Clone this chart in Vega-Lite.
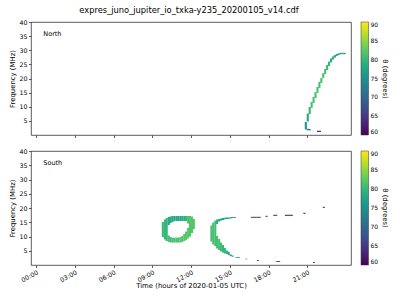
{
  "$schema": "https://vega.github.io/schema/vega-lite/v6.json",
  "padding": {"left": 8, "top": 6, "right": 0, "bottom": 0},
  "bounds": "flush",
  "title": {"text": "expres_juno_jupiter_io_txka-y235_20200105_v14.cdf", "fontSize": 8.3, "fontWeight": "normal", "font": "DejaVu Sans", "color": "#000", "offset": 4, "anchor": "middle", "dx": -10},
  "config": {
    "font": "DejaVu Sans",
    "view": {"stroke": "#333", "strokeWidth": 0.8},
    "axis": {"grid": false, "domain": false, "tickColor": "#333", "tickSize": 2.5, "tickWidth": 0.8, "labelFontSize": 6.3, "labelColor": "#000", "titleFontSize": 6.9, "titleFontWeight": "normal", "titleColor": "#000", "labelPadding": 1.5, "titlePadding": 3, "labelOverlap": false, "labelBound": false, "labelFlush": false},
    "legend": {"gradientThickness": 7.5, "labelFontSize": 6, "labelColor": "#000", "titleFontSize": 6.9, "titleFontWeight": "normal", "titleColor": "#000", "titleOrient": "right", "titleAngle": 270, "titleAlign": "center", "titleBaseline": "bottom", "labelOffset": 3, "padding": 0, "offset": 10, "gradientStrokeColor": "#333", "gradientStrokeWidth": 0.5, "labelFlush": false, "labelOverlap": false, "titlePadding": 4},
    "title": {"fontWeight": "normal", "color": "#000"},
    "concat": {"spacing": 16}
  },
  "datasets": {
    "dyn": [
      {"panel": "North", "t": 20.89, "f1": 1.95, "f2": 4.6, "theta": 75},
      {"panel": "North", "t": 21.04, "f1": 4.78, "f2": 7.6, "theta": 78},
      {"panel": "North", "t": 21.04, "f1": 1.66, "f2": 2.2, "theta": 72},
      {"panel": "North", "t": 21.19, "f1": 7.4, "f2": 9.9, "theta": 80},
      {"panel": "North", "t": 21.19, "f1": 1.66, "f2": 2.1, "theta": 70},
      {"panel": "North", "t": 21.34, "f1": 9.6, "f2": 11.7, "theta": 81},
      {"panel": "North", "t": 21.49, "f1": 11.3, "f2": 13.5, "theta": 81},
      {"panel": "North", "t": 21.64, "f1": 13.1, "f2": 15.2, "theta": 81},
      {"panel": "North", "t": 21.79, "f1": 14.9, "f2": 17.0, "theta": 81},
      {"panel": "North", "t": 21.94, "f1": 16.6, "f2": 18.8, "theta": 81},
      {"panel": "North", "t": 21.83, "f1": 1.1, "f2": 1.5, "theta": 62},
      {"panel": "North", "t": 21.98, "f1": 1.1, "f2": 1.5, "theta": 62},
      {"panel": "North", "t": 22.09, "f1": 18.4, "f2": 20.2, "theta": 81},
      {"panel": "North", "t": 22.24, "f1": 20.2, "f2": 21.9, "theta": 81},
      {"panel": "North", "t": 22.39, "f1": 21.6, "f2": 23.4, "theta": 81},
      {"panel": "North", "t": 22.54, "f1": 23.0, "f2": 24.8, "theta": 80},
      {"panel": "North", "t": 22.69, "f1": 24.4, "f2": 26.0, "theta": 80},
      {"panel": "North", "t": 22.84, "f1": 25.7, "f2": 27.1, "theta": 79},
      {"panel": "North", "t": 22.99, "f1": 26.7, "f2": 27.8, "theta": 79},
      {"panel": "North", "t": 23.14, "f1": 27.4, "f2": 28.3, "theta": 78},
      {"panel": "North", "t": 23.29, "f1": 28.0, "f2": 28.7, "theta": 78},
      {"panel": "North", "t": 23.44, "f1": 28.3, "f2": 28.9, "theta": 77},
      {"panel": "North", "t": 23.59, "f1": 28.6, "f2": 29.1, "theta": 77},
      {"panel": "North", "t": 23.74, "f1": 28.6, "f2": 29.1, "theta": 77},
      {"panel": "North", "t": 23.89, "f1": 28.6, "f2": 29.1, "theta": 77},

      {"panel": "South", "t": 9.82, "f1": 9.82, "f2": 15.09, "theta": 80},
      {"panel": "South", "t": 9.98, "f1": 8.95, "f2": 15.96, "theta": 80},
      {"panel": "South", "t": 10.12, "f1": 8.42, "f2": 16.49, "theta": 80},
      {"panel": "South", "t": 10.28, "f1": 14.04, "f2": 16.84, "theta": 78},
      {"panel": "South", "t": 10.28, "f1": 8.07, "f2": 10.35, "theta": 81},
      {"panel": "South", "t": 10.42, "f1": 14.74, "f2": 17.02, "theta": 78},
      {"panel": "South", "t": 10.42, "f1": 7.89, "f2": 9.82, "theta": 81},
      {"panel": "South", "t": 10.57, "f1": 15.09, "f2": 17.19, "theta": 78},
      {"panel": "South", "t": 10.57, "f1": 7.89, "f2": 9.58, "theta": 81},
      {"panel": "South", "t": 10.72, "f1": 15.44, "f2": 17.19, "theta": 78},
      {"panel": "South", "t": 10.72, "f1": 7.89, "f2": 9.58, "theta": 81},
      {"panel": "South", "t": 10.88, "f1": 15.44, "f2": 17.19, "theta": 78},
      {"panel": "South", "t": 10.88, "f1": 7.89, "f2": 9.58, "theta": 81},
      {"panel": "South", "t": 11.02, "f1": 15.44, "f2": 17.19, "theta": 78},
      {"panel": "South", "t": 11.02, "f1": 7.89, "f2": 9.65, "theta": 81},
      {"panel": "South", "t": 11.18, "f1": 15.44, "f2": 17.19, "theta": 78},
      {"panel": "South", "t": 11.18, "f1": 7.89, "f2": 9.82, "theta": 82},
      {"panel": "South", "t": 11.32, "f1": 15.44, "f2": 17.19, "theta": 79},
      {"panel": "South", "t": 11.32, "f1": 8.07, "f2": 10.18, "theta": 82},
      {"panel": "South", "t": 11.48, "f1": 15.44, "f2": 17.19, "theta": 79},
      {"panel": "South", "t": 11.48, "f1": 8.42, "f2": 10.88, "theta": 82},
      {"panel": "South", "t": 11.62, "f1": 15.44, "f2": 17.19, "theta": 80},
      {"panel": "South", "t": 11.62, "f1": 8.77, "f2": 11.75, "theta": 82},
      {"panel": "South", "t": 11.78, "f1": 14.56, "f2": 17.19, "theta": 81},
      {"panel": "South", "t": 11.78, "f1": 9.30, "f2": 12.98, "theta": 82},
      {"panel": "South", "t": 11.92, "f1": 10.0, "f2": 17.19, "theta": 82},
      {"panel": "South", "t": 12.08, "f1": 11.23, "f2": 17.02, "theta": 82},
      {"panel": "South", "t": 12.22, "f1": 12.63, "f2": 16.14, "theta": 82},

      {"panel": "South", "t": 13.58, "f1": 8.25, "f2": 13.86, "theta": 81},
      {"panel": "South", "t": 13.72, "f1": 7.19, "f2": 14.91, "theta": 81},
      {"panel": "South", "t": 13.88, "f1": 6.67, "f2": 15.61, "theta": 81},
      {"panel": "South", "t": 14.02, "f1": 14.39, "f2": 15.96, "theta": 79},
      {"panel": "South", "t": 14.02, "f1": 5.79, "f2": 10.18, "theta": 81},
      {"panel": "South", "t": 14.18, "f1": 15.26, "f2": 16.14, "theta": 78},
      {"panel": "South", "t": 14.18, "f1": 5.26, "f2": 9.12, "theta": 81},
      {"panel": "South", "t": 14.32, "f1": 15.61, "f2": 16.32, "theta": 78},
      {"panel": "South", "t": 14.32, "f1": 4.74, "f2": 7.89, "theta": 81},
      {"panel": "South", "t": 14.48, "f1": 15.79, "f2": 16.49, "theta": 78},
      {"panel": "South", "t": 14.48, "f1": 4.39, "f2": 7.02, "theta": 80},
      {"panel": "South", "t": 14.62, "f1": 16.04, "f2": 16.6, "theta": 77},
      {"panel": "South", "t": 14.62, "f1": 4.04, "f2": 5.96, "theta": 80},
      {"panel": "South", "t": 14.78, "f1": 16.14, "f2": 16.67, "theta": 77},
      {"panel": "South", "t": 14.78, "f1": 3.86, "f2": 5.09, "theta": 79},
      {"panel": "South", "t": 14.92, "f1": 16.21, "f2": 16.67, "theta": 77},
      {"panel": "South", "t": 14.92, "f1": 3.51, "f2": 4.56, "theta": 78},
      {"panel": "South", "t": 15.08, "f1": 16.32, "f2": 16.77, "theta": 76},
      {"panel": "South", "t": 15.08, "f1": 3.16, "f2": 3.68, "theta": 76},
      {"panel": "South", "t": 15.22, "f1": 16.49, "f2": 16.84, "theta": 75},
      {"panel": "South", "t": 15.22, "f1": 2.91, "f2": 3.33, "theta": 76},
      {"panel": "South", "t": 15.38, "f1": 16.49, "f2": 16.84, "theta": 75},
      {"panel": "South", "t": 15.52, "f1": 2.56, "f2": 2.81, "theta": 75},
      {"panel": "South", "t": 15.68, "f1": 2.46, "f2": 2.81, "theta": 75},
      {"panel": "South", "t": 16.28, "f1": 2.0, "f2": 2.21, "theta": 72},
      {"panel": "South", "t": 17.18, "f1": 1.40, "f2": 1.75, "theta": 68},
      {"panel": "South", "t": 18.68, "f1": 1.12, "f2": 1.40, "theta": 61},
      {"panel": "South", "t": 18.82, "f1": 1.12, "f2": 1.40, "theta": 61},
      {"panel": "South", "t": 21.52, "f1": 0.77, "f2": 1.05, "theta": 61},
      {"panel": "South", "t": 16.72, "f1": 16.56, "f2": 16.91, "theta": 65},
      {"panel": "South", "t": 16.88, "f1": 16.56, "f2": 16.91, "theta": 65},
      {"panel": "South", "t": 17.02, "f1": 16.56, "f2": 16.91, "theta": 65},
      {"panel": "South", "t": 17.18, "f1": 16.56, "f2": 16.91, "theta": 65},
      {"panel": "South", "t": 17.32, "f1": 16.56, "f2": 16.91, "theta": 65},
      {"panel": "South", "t": 17.85, "f1": 16.91, "f2": 17.26, "theta": 62},
      {"panel": "South", "t": 18.45, "f1": 17.26, "f2": 17.61, "theta": 62},
      {"panel": "South", "t": 18.6, "f1": 17.26, "f2": 17.61, "theta": 62},
      {"panel": "South", "t": 19.35, "f1": 17.26, "f2": 17.61, "theta": 61},
      {"panel": "South", "t": 19.5, "f1": 17.26, "f2": 17.61, "theta": 61},
      {"panel": "South", "t": 19.65, "f1": 17.26, "f2": 17.61, "theta": 61},
      {"panel": "South", "t": 19.8, "f1": 17.26, "f2": 17.61, "theta": 61},
      {"panel": "South", "t": 20.78, "f1": 17.96, "f2": 18.32, "theta": 61},
      {"panel": "South", "t": 22.28, "f1": 20.07, "f2": 20.42, "theta": 61}
    ]
  },
  "vconcat": [
    {
      "width": 320,
      "height": 113,
      "title": {"text": "North", "anchor": "start", "frame": "group", "orient": "top", "offset": -18, "dx": 12.3, "fontSize": 6.5, "fontWeight": "normal", "color": "#000"},
      "data": {"name": "dyn"},
      "transform": [{"filter": "datum.panel === 'North'"}],
      "mark": {"type": "bar", "width": 2.1, "clip": true},
      "encoding": {
        "x": {"field": "t", "type": "quantitative", "scale": {"domain": [0, 24], "nice": false}, "axis": {"values": [0, 3, 6, 9, 12, 15, 18, 21], "labels": false, "title": null}},
        "y": {"field": "f1", "type": "quantitative", "scale": {"domain": [0, 40], "nice": false, "zero": false}, "axis": {"values": [5, 10, 15, 20, 25, 30, 35, 40], "labelOverlap": false, "title": "Frequency (MHz)"}},
        "y2": {"field": "f2"},
        "color": {"field": "theta", "type": "quantitative", "scale": {"scheme": "viridis", "domain": [60, 90]}, "legend": {"title": "θ (degrees)", "values": [60, 65, 70, 75, 80, 85, 90], "gradientLength": 113}}
      }
    },
    {
      "width": 320,
      "height": 114,
      "title": {"text": "South", "anchor": "start", "frame": "group", "orient": "top", "offset": -18, "dx": 12.3, "fontSize": 6.5, "fontWeight": "normal", "color": "#000"},
      "data": {"name": "dyn"},
      "transform": [{"filter": "datum.panel === 'South'"}],
      "mark": {"type": "bar", "width": 2.1, "clip": true},
      "encoding": {
        "x": {"field": "t", "type": "quantitative", "scale": {"domain": [0, 24], "nice": false}, "axis": {"values": [0, 3, 6, 9, 12, 15, 18, 21], "labelAngle": -28, "labelAlign": "right", "labelBaseline": "top", "labelDx": -4, "labelDy": 3, "labelExpr": "(datum.value < 10 ? '0' : '') + datum.value + ':00'", "title": "Time (hours of 2020-01-05 UTC)", "titlePadding": -0.5}},
        "y": {"field": "f1", "type": "quantitative", "scale": {"domain": [0, 40], "nice": false, "zero": false}, "axis": {"values": [5, 10, 15, 20, 25, 30, 35, 40], "labelOverlap": false, "title": "Frequency (MHz)"}},
        "y2": {"field": "f2"},
        "color": {"field": "theta", "type": "quantitative", "scale": {"scheme": "viridis", "domain": [60, 90]}, "legend": {"title": "θ (degrees)", "values": [60, 65, 70, 75, 80, 85, 90], "gradientLength": 114}}
      }
    }
  ],
  "resolve": {"scale": {"color": "independent"}, "legend": {"color": "independent"}}
}
